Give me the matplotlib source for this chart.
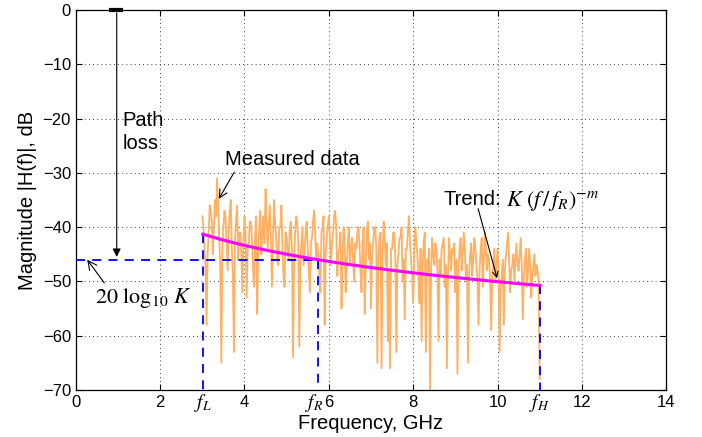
import numpy as np
import matplotlib
matplotlib.use("Agg")
import matplotlib.pyplot as plt

plt.rcParams['font.family'] = ['Liberation Sans', 'DejaVu Sans']
plt.rcParams['mathtext.fontset'] = 'stix'

# Measured data (dB), frequency grid from 3.00 to 11.00 GHz in 0.025 GHz steps
freq_start = 3.0
freq_step = 0.025
measured_db = [
    -38, -40, -44, -47, -58, -45, -41, -36, -37, -39, -45, -40, -35, -38, -31, -36, -42, -47, -65, -44,
    -40, -37, -38, -43, -48, -41, -37, -35, -44, -49, -63, -42, -39, -36, -46, -41, -41, -45, -52, -43,
    -38, -41, -53, -44, -43, -39, -39, -42, -47, -51, -42, -38, -56, -45, -40, -37, -45, -41, -38, -43,
    -33, -39, -44, -40, -36, -42, -51, -43, -35, -39, -42, -46, -47, -40, -40, -36, -44, -49, -51, -41,
    -42, -45, -46, -40, -39, -44, -64, -47, -41, -38, -39, -43, -62, -46, -43, -40, -47, -44, -41, -39,
    -44, -48, -52, -43, -42, -39, -37, -41, -46, -43, -45, -49, -52, -41, -40, -38, -58, -45, -42, -40,
    -38, -42, -47, -43, -41, -38, -37, -40, -49, -45, -44, -41, -55, -46, -40, -42, -52, -47, -43, -40,
    -47, -44, -42, -46, -50, -43, -44, -41, -40, -43, -48, -52, -43, -40, -56, -47, -41, -39, -46, -43,
    -55, -45, -43, -40, -40, -44, -65, -46, -42, -41, -66, -45, -39, -42, -47, -43, -61, -48, -66, -44,
    -44, -41, -41, -45, -63, -47, -45, -42, -42, -40, -50, -46, -57, -44, -44, -41, -38, -43, -46, -49,
    -54, -45, -40, -43, -45, -49, -54, -44, -61, -47, -43, -41, -63, -46, -48, -44, -70, -48, -42, -45,
    -47, -43, -44, -48, -61, -46, -49, -44, -43, -42, -51, -47, -66, -49, -42, -45, -48, -44, -45, -43,
    -52, -46, -67, -48, -44, -42, -48, -45, -41, -44, -50, -47, -65, -49, -45, -43, -49, -46, -42, -44,
    -47, -50, -58, -48, -44, -42, -51, -46, -41, -44, -48, -45, -46, -50, -59, -49, -47, -44, -50, -47,
    -44, -48, -63, -51, -49, -46, -58, -48, -45, -43, -41, -46, -52, -48, -47, -45, -50, -46, -43, -47,
    -48, -45, -42, -47, -57, -49, -46, -44, -51, -48, -44, -47, -53, -49, -47, -45, -49, -47, -48, -50,
    -68,
]
freq = freq_start + freq_step * np.arange(len(measured_db))

# Model parameters
f_L, f_R, f_H = 3.01, 5.74, 11.0
K_db = -46.0
m = 0.84

x_ticks = [0, 2, 4, 6, 8, 10, 12, 14]
y_ticks = [0, -10, -20, -30, -40, -50, -60, -70]

fig = plt.figure(figsize=(7.02, 4.37), dpi=100)
ax = fig.add_axes([0.108, 0.1076, 0.841, 0.8695])

ax.plot(freq, measured_db, color='#FFB062', lw=1.3, zorder=2)

ft = np.linspace(f_L, f_H, 200)
trend = K_db - 20 * m * np.log10(ft / f_R)
ax.plot(ft, trend, color='#FF00FF', lw=2.2, zorder=4)

dash = (0, (5, 4))
trend_L = K_db - 20 * m * np.log10(f_L / f_R)
trend_H = K_db - 20 * m * np.log10(f_H / f_R)
ax.plot([0, f_R], [K_db, K_db], color='#0000FF', lw=1.3, linestyle=dash, zorder=3)
ax.plot([f_R, f_R], [K_db, -70], color='#0000FF', lw=1.3, linestyle=dash, zorder=3)
ax.plot([f_L, f_L], [trend_L, -70], color='#0000FF', lw=1.3, linestyle=dash, zorder=3)
ax.plot([f_H, f_H], [trend_H, -70], color='#0000FF', lw=1.3, linestyle=dash, zorder=3)

ax.set_xlim(0, 14)
ax.set_ylim(-70, 0)
ax.set_xticks(x_ticks)
ax.set_yticks(y_ticks)
ax.set_xticklabels([str(t) for t in x_ticks])
ax.set_yticklabels([str(t).replace('-', '\u2212') for t in y_ticks])
ax.tick_params(direction='in', length=4, labelsize=12, width=0.8, top=True, right=True)
ax.grid(True, linestyle=(0, (1, 4)), color='k', lw=0.6)
for s in ax.spines.values():
    s.set_linewidth(0.9)

ax.set_xlabel('Frequency, GHz', fontsize=14.5, labelpad=3)
ax.set_ylabel('Magnitude |H(f)|, dB', fontsize=14.5, labelpad=4)

# Frequency markers under the axis
for fv, lab in [(f_L, r'$f_L$'), (f_R - 0.08, r'$f_R$'), (f_H, r'$f_H$')]:
    ax.text(fv, -70.35, lab, ha='center', va='top', fontsize=14)

# Path loss arrow
ax.plot([0.78, 1.12], [0, 0], color='k', lw=3, solid_capstyle='butt', clip_on=False, zorder=5)
ax.annotate('', xy=(0.97, K_db), xytext=(0.97, 0),
            arrowprops=dict(arrowstyle='-|>', color='k', lw=0.8, mutation_scale=12))
ax.text(1.1, -22.5, 'Path\nloss', fontsize=14.5, ha='left', va='center', linespacing=1.3)

# 20 log10 K
ax.annotate(r'$20\ \mathrm{log}_{10}\ K$', xy=(0.27, K_db), xytext=(0.45, -53),
            fontsize=16, ha='left', va='center',
            arrowprops=dict(arrowstyle='->', color='k', lw=0.8, shrinkA=0, shrinkB=0,
                            relpos=(0.12, 1.0)))

# Measured data
ax.annotate('Measured data', xy=(3.39, -34.8), xytext=(3.54, -27.6),
            fontsize=14.5, ha='left', va='center',
            arrowprops=dict(arrowstyle='->', color='k', lw=0.8, shrinkA=0, shrinkB=0,
                            relpos=(0.08, 0.0)))

# Trend
ax.text(8.71, -35.0, 'Trend:', fontsize=14.5, ha='left', va='center')
ax.text(10.2, -35.2, r'$K\ (f\,/\,f_R)^{-m}$', fontsize=16, ha='left', va='center')
ax.annotate('', xy=(9.99, -49.4), xytext=(9.54, -36.6),
            arrowprops=dict(arrowstyle='->', color='k', lw=0.8, shrinkA=0, shrinkB=0))

fig.savefig('out.png', dpi=100)
